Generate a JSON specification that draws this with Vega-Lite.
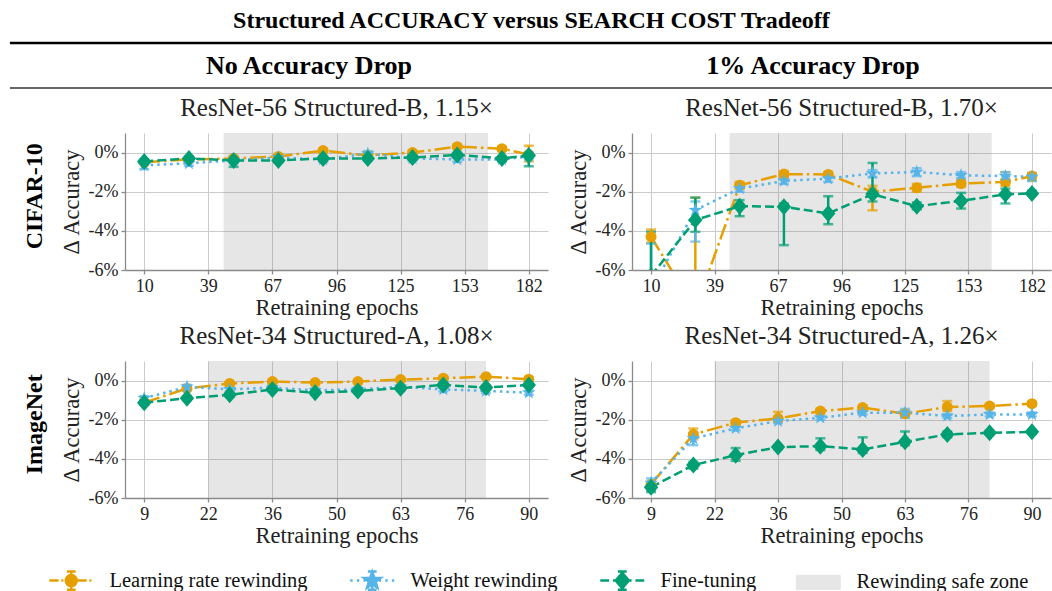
{
"$schema": "https://vega.github.io/schema/vega-lite/v6.json",
"padding": {"left": 8, "top": 8, "right": 0, "bottom": 0},
"background": "white",
"title": {"text": "Structured ACCURACY versus SEARCH COST Tradeoff", "font": "Liberation Serif, Times New Roman, serif", "fontSize": 24, "fontWeight": "bold", "color": "#000", "anchor": "middle", "frame": "bounds", "offset": 9},
"datasets": {
"zones": [
{"p": "A", "start": 45.5, "end": 163.8},
{"p": "B", "start": 45.5, "end": 163.8},
{"p": "C", "start": 22.5, "end": 81},
{"p": "D", "start": 22.5, "end": 81}
],
"pts": [
{"p":"A","s":"Learning rate rewinding","e":10,"v":-0.5,"lo":-0.6,"hi":-0.4},
{"p":"A","s":"Learning rate rewinding","e":30,"v":-0.35,"lo":-0.45,"hi":-0.25},
{"p":"A","s":"Learning rate rewinding","e":50,"v":-0.3,"lo":-0.4,"hi":-0.2},
{"p":"A","s":"Learning rate rewinding","e":70,"v":-0.2,"lo":-0.3,"hi":-0.1},
{"p":"A","s":"Learning rate rewinding","e":90,"v":0.1,"lo":0.0,"hi":0.2},
{"p":"A","s":"Learning rate rewinding","e":110,"v":-0.15,"lo":-0.25,"hi":-0.05},
{"p":"A","s":"Learning rate rewinding","e":130,"v":0.0,"lo":-0.1,"hi":0.1},
{"p":"A","s":"Learning rate rewinding","e":150,"v":0.3,"lo":0.2,"hi":0.4},
{"p":"A","s":"Learning rate rewinding","e":170,"v":0.2,"lo":0.1,"hi":0.3},
{"p":"A","s":"Learning rate rewinding","e":182,"v":-0.1,"lo":-0.45,"hi":0.35},
{"p":"A","s":"Weight rewinding","e":10,"v":-0.65,"lo":-0.85,"hi":-0.45},
{"p":"A","s":"Weight rewinding","e":30,"v":-0.55,"lo":-0.67,"hi":-0.43},
{"p":"A","s":"Weight rewinding","e":50,"v":-0.4,"lo":-0.52,"hi":-0.28},
{"p":"A","s":"Weight rewinding","e":70,"v":-0.25,"lo":-0.37,"hi":-0.13},
{"p":"A","s":"Weight rewinding","e":90,"v":-0.35,"lo":-0.47,"hi":-0.23},
{"p":"A","s":"Weight rewinding","e":110,"v":-0.05,"lo":-0.17,"hi":0.07},
{"p":"A","s":"Weight rewinding","e":130,"v":-0.3,"lo":-0.42,"hi":-0.18},
{"p":"A","s":"Weight rewinding","e":150,"v":-0.35,"lo":-0.47,"hi":-0.23},
{"p":"A","s":"Weight rewinding","e":170,"v":-0.35,"lo":-0.47,"hi":-0.23},
{"p":"A","s":"Weight rewinding","e":182,"v":-0.2,"lo":-0.32,"hi":-0.08},
{"p":"A","s":"Fine-tuning","e":10,"v":-0.45,"lo":-0.55,"hi":-0.35},
{"p":"A","s":"Fine-tuning","e":30,"v":-0.3,"lo":-0.4,"hi":-0.2},
{"p":"A","s":"Fine-tuning","e":50,"v":-0.4,"lo":-0.73,"hi":-0.2},
{"p":"A","s":"Fine-tuning","e":70,"v":-0.4,"lo":-0.5,"hi":-0.3},
{"p":"A","s":"Fine-tuning","e":90,"v":-0.3,"lo":-0.4,"hi":-0.2},
{"p":"A","s":"Fine-tuning","e":110,"v":-0.3,"lo":-0.4,"hi":-0.2},
{"p":"A","s":"Fine-tuning","e":130,"v":-0.25,"lo":-0.35,"hi":-0.15},
{"p":"A","s":"Fine-tuning","e":150,"v":-0.12,"lo":-0.22,"hi":-0.02},
{"p":"A","s":"Fine-tuning","e":170,"v":-0.3,"lo":-0.4,"hi":-0.2},
{"p":"A","s":"Fine-tuning","e":182,"v":-0.15,"lo":-0.7,"hi":0.0},
{"p":"B","s":"Learning rate rewinding","e":10,"v":-4.3,"lo":-4.6,"hi":-3.93},
{"p":"B","s":"Learning rate rewinding","e":30,"v":-8.0,"lo":-9.5,"hi":-2.3},
{"p":"B","s":"Learning rate rewinding","e":50,"v":-1.67,"lo":-1.85,"hi":-1.5},
{"p":"B","s":"Learning rate rewinding","e":70,"v":-1.1,"lo":-1.25,"hi":-0.95},
{"p":"B","s":"Learning rate rewinding","e":90,"v":-1.12,"lo":-1.25,"hi":-1.0},
{"p":"B","s":"Learning rate rewinding","e":110,"v":-2.0,"lo":-2.95,"hi":-1.7},
{"p":"B","s":"Learning rate rewinding","e":130,"v":-1.8,"lo":-2.0,"hi":-1.6},
{"p":"B","s":"Learning rate rewinding","e":150,"v":-1.58,"lo":-1.75,"hi":-1.4},
{"p":"B","s":"Learning rate rewinding","e":170,"v":-1.5,"lo":-1.7,"hi":-1.0},
{"p":"B","s":"Learning rate rewinding","e":182,"v":-1.2,"lo":-1.4,"hi":-1.05},
{"p":"B","s":"Weight rewinding","e":10,"v":-7.0,"lo":-9.0,"hi":-4.65},
{"p":"B","s":"Weight rewinding","e":30,"v":-2.94,"lo":-4.55,"hi":-2.5},
{"p":"B","s":"Weight rewinding","e":50,"v":-1.84,"lo":-2.0,"hi":-1.65},
{"p":"B","s":"Weight rewinding","e":70,"v":-1.45,"lo":-1.6,"hi":-1.3},
{"p":"B","s":"Weight rewinding","e":90,"v":-1.33,"lo":-1.5,"hi":-1.2},
{"p":"B","s":"Weight rewinding","e":110,"v":-1.07,"lo":-1.25,"hi":-0.9},
{"p":"B","s":"Weight rewinding","e":130,"v":-0.99,"lo":-1.2,"hi":-0.8},
{"p":"B","s":"Weight rewinding","e":150,"v":-1.16,"lo":-1.3,"hi":-1.0},
{"p":"B","s":"Weight rewinding","e":170,"v":-1.2,"lo":-1.35,"hi":-1.0},
{"p":"B","s":"Weight rewinding","e":182,"v":-1.24,"lo":-1.45,"hi":-1.05},
{"p":"B","s":"Fine-tuning","e":10,"v":-6.3,"lo":-8.0,"hi":-4.05},
{"p":"B","s":"Fine-tuning","e":30,"v":-3.45,"lo":-4.05,"hi":-2.3},
{"p":"B","s":"Fine-tuning","e":50,"v":-2.74,"lo":-3.25,"hi":-2.43},
{"p":"B","s":"Fine-tuning","e":70,"v":-2.77,"lo":-4.73,"hi":-2.6},
{"p":"B","s":"Fine-tuning","e":90,"v":-3.11,"lo":-3.66,"hi":-2.23},
{"p":"B","s":"Fine-tuning","e":110,"v":-2.13,"lo":-2.5,"hi":-0.53},
{"p":"B","s":"Fine-tuning","e":130,"v":-2.74,"lo":-2.9,"hi":-2.55},
{"p":"B","s":"Fine-tuning","e":150,"v":-2.47,"lo":-2.86,"hi":-2.06},
{"p":"B","s":"Fine-tuning","e":170,"v":-2.13,"lo":-2.6,"hi":-1.84},
{"p":"B","s":"Fine-tuning","e":182,"v":-2.09,"lo":-2.2,"hi":-1.95},
{"p":"C","s":"Learning rate rewinding","e":9,"v":-1.13,"lo":-1.21,"hi":-1.05},
{"p":"C","s":"Learning rate rewinding","e":18,"v":-0.4,"lo":-0.48,"hi":-0.32},
{"p":"C","s":"Learning rate rewinding","e":27,"v":-0.15,"lo":-0.23,"hi":-0.07},
{"p":"C","s":"Learning rate rewinding","e":36,"v":-0.05,"lo":-0.13,"hi":0.03},
{"p":"C","s":"Learning rate rewinding","e":45,"v":-0.1,"lo":-0.18,"hi":-0.02},
{"p":"C","s":"Learning rate rewinding","e":54,"v":-0.05,"lo":-0.13,"hi":0.03},
{"p":"C","s":"Learning rate rewinding","e":63,"v":0.05,"lo":-0.03,"hi":0.13},
{"p":"C","s":"Learning rate rewinding","e":72,"v":0.12,"lo":0.04,"hi":0.2},
{"p":"C","s":"Learning rate rewinding","e":81,"v":0.2,"lo":0.12,"hi":0.28},
{"p":"C","s":"Learning rate rewinding","e":90,"v":0.07,"lo":-0.01,"hi":0.15},
{"p":"C","s":"Weight rewinding","e":9,"v":-0.9,"lo":-1.0,"hi":-0.8},
{"p":"C","s":"Weight rewinding","e":18,"v":-0.32,"lo":-0.42,"hi":-0.22},
{"p":"C","s":"Weight rewinding","e":27,"v":-0.45,"lo":-0.55,"hi":-0.35},
{"p":"C","s":"Weight rewinding","e":36,"v":-0.36,"lo":-0.46,"hi":-0.26},
{"p":"C","s":"Weight rewinding","e":45,"v":-0.5,"lo":-0.6,"hi":-0.4},
{"p":"C","s":"Weight rewinding","e":54,"v":-0.45,"lo":-0.55,"hi":-0.35},
{"p":"C","s":"Weight rewinding","e":63,"v":-0.32,"lo":-0.42,"hi":-0.22},
{"p":"C","s":"Weight rewinding","e":72,"v":-0.45,"lo":-0.55,"hi":-0.35},
{"p":"C","s":"Weight rewinding","e":81,"v":-0.53,"lo":-0.63,"hi":-0.43},
{"p":"C","s":"Weight rewinding","e":90,"v":-0.62,"lo":-0.72,"hi":-0.52},
{"p":"C","s":"Fine-tuning","e":9,"v":-1.13,"lo":-1.23,"hi":-1.03},
{"p":"C","s":"Fine-tuning","e":18,"v":-0.9,"lo":-1.0,"hi":-0.8},
{"p":"C","s":"Fine-tuning","e":27,"v":-0.73,"lo":-0.83,"hi":-0.63},
{"p":"C","s":"Fine-tuning","e":36,"v":-0.45,"lo":-0.55,"hi":-0.35},
{"p":"C","s":"Fine-tuning","e":45,"v":-0.62,"lo":-0.72,"hi":-0.52},
{"p":"C","s":"Fine-tuning","e":54,"v":-0.53,"lo":-0.63,"hi":-0.43},
{"p":"C","s":"Fine-tuning","e":63,"v":-0.39,"lo":-0.49,"hi":-0.29},
{"p":"C","s":"Fine-tuning","e":72,"v":-0.22,"lo":-0.32,"hi":-0.12},
{"p":"C","s":"Fine-tuning","e":81,"v":-0.36,"lo":-0.46,"hi":-0.26},
{"p":"C","s":"Fine-tuning","e":90,"v":-0.22,"lo":-0.32,"hi":-0.12},
{"p":"D","s":"Learning rate rewinding","e":9,"v":-5.3,"lo":-5.4,"hi":-5.2},
{"p":"D","s":"Learning rate rewinding","e":18,"v":-2.75,"lo":-3.0,"hi":-2.45},
{"p":"D","s":"Learning rate rewinding","e":27,"v":-2.15,"lo":-2.25,"hi":-2.05},
{"p":"D","s":"Learning rate rewinding","e":36,"v":-1.93,"lo":-2.1,"hi":-1.6},
{"p":"D","s":"Learning rate rewinding","e":45,"v":-1.56,"lo":-1.66,"hi":-1.46},
{"p":"D","s":"Learning rate rewinding","e":54,"v":-1.38,"lo":-1.48,"hi":-1.28},
{"p":"D","s":"Learning rate rewinding","e":63,"v":-1.69,"lo":-1.79,"hi":-1.59},
{"p":"D","s":"Learning rate rewinding","e":72,"v":-1.35,"lo":-1.55,"hi":-1.05},
{"p":"D","s":"Learning rate rewinding","e":81,"v":-1.3,"lo":-1.4,"hi":-1.2},
{"p":"D","s":"Learning rate rewinding","e":90,"v":-1.18,"lo":-1.28,"hi":-1.08},
{"p":"D","s":"Weight rewinding","e":9,"v":-5.23,"lo":-5.6,"hi":-5.0},
{"p":"D","s":"Weight rewinding","e":18,"v":-2.96,"lo":-3.3,"hi":-2.7},
{"p":"D","s":"Weight rewinding","e":27,"v":-2.44,"lo":-2.54,"hi":-2.34},
{"p":"D","s":"Weight rewinding","e":36,"v":-2.07,"lo":-2.17,"hi":-1.97},
{"p":"D","s":"Weight rewinding","e":45,"v":-1.9,"lo":-2.0,"hi":-1.8},
{"p":"D","s":"Weight rewinding","e":54,"v":-1.64,"lo":-1.74,"hi":-1.54},
{"p":"D","s":"Weight rewinding","e":63,"v":-1.64,"lo":-1.9,"hi":-1.45},
{"p":"D","s":"Weight rewinding","e":72,"v":-1.81,"lo":-1.91,"hi":-1.71},
{"p":"D","s":"Weight rewinding","e":81,"v":-1.73,"lo":-1.83,"hi":-1.63},
{"p":"D","s":"Weight rewinding","e":90,"v":-1.73,"lo":-1.83,"hi":-1.63},
{"p":"D","s":"Fine-tuning","e":9,"v":-5.45,"lo":-5.7,"hi":-5.2},
{"p":"D","s":"Fine-tuning","e":18,"v":-4.32,"lo":-4.5,"hi":-4.15},
{"p":"D","s":"Fine-tuning","e":27,"v":-3.81,"lo":-4.1,"hi":-3.45},
{"p":"D","s":"Fine-tuning","e":36,"v":-3.4,"lo":-3.5,"hi":-3.3},
{"p":"D","s":"Fine-tuning","e":45,"v":-3.35,"lo":-3.55,"hi":-2.95},
{"p":"D","s":"Fine-tuning","e":54,"v":-3.52,"lo":-3.7,"hi":-2.9},
{"p":"D","s":"Fine-tuning","e":63,"v":-3.13,"lo":-3.3,"hi":-2.6},
{"p":"D","s":"Fine-tuning","e":72,"v":-2.75,"lo":-2.9,"hi":-2.6},
{"p":"D","s":"Fine-tuning","e":81,"v":-2.67,"lo":-2.77,"hi":-2.57},
{"p":"D","s":"Fine-tuning","e":90,"v":-2.62,"lo":-2.72,"hi":-2.52}
]
},
"spacing": 0,
"vconcat": [
{"width": 928, "height": 10, "data": {"values": [{"v": 1}]}, "mark": {"type": "rule", "strokeWidth": 2.5, "color": "#000"}, "encoding": {"y": {"field": "v", "type": "quantitative", "scale": {"domain": [0, 1]}, "axis": null}, "x": {"datum": -0.124, "type": "quantitative", "scale": {"domain": [0, 1]}, "axis": null}, "x2": {"datum": 1}}},
{"hconcat": [
  {"width": 368, "height": 8, "title": {"text": "No Accuracy Drop", "fontSize": 26, "fontWeight": "bold", "color": "#000", "offset": 0}, "data": {"values": []}, "mark": "rule", "encoding": {}},
  {"width": 480, "height": 8, "title": {"text": "1% Accuracy Drop", "fontSize": 26, "fontWeight": "bold", "color": "#000", "offset": 0}, "data": {"values": []}, "mark": "rule", "encoding": {}}
], "spacing": 80},
{"width": 928, "height": 8, "data": {"values": [{"v": 1}]}, "mark": {"type": "rule", "strokeWidth": 1.5, "color": "#333"}, "encoding": {"y": {"field": "v", "type": "quantitative", "scale": {"domain": [0, 1]}, "axis": null}, "x": {"datum": -0.124, "type": "quantitative", "scale": {"domain": [0, 1]}, "axis": null}, "x2": {"datum": 1}}},
{"vconcat": [
{"title": {"text": ["", "CIFAR-10"], "orient": "left", "fontSize": 24, "fontWeight": "bold", "color": "#000", "lineHeight": 14, "offset": 13, "anchor": "middle", "dx": 11},
 "spacing": 19,
 "hconcat": [
  {"width": 423, "height": 137, "title": "ResNet-56 Structured-B, 1.15×",
   "layer": [
    {"data": {"name": "zones"}, "transform": [{"filter": "datum.p === 'A'"}], "mark": {"type": "rect", "opacity": 0.2, "color": "#808080"},
     "encoding": {"x": {"field": "start", "type": "quantitative", "scale": {"domain": [1.4, 190.6], "nice": false, "zero": false}, "axis": {"values": [10, 38.667, 67.333, 96, 124.667, 153.333, 182], "format": "d", "title": "Retraining epochs"}},
      "x2": {"field": "end"}}},
    {"data": {"name": "pts"}, "transform": [{"filter": "datum.p === 'A'"}], "mark": {"type": "line", "strokeWidth": 2.5, "clip": true},
     "encoding": {"x": {"field": "e", "type": "quantitative", "scale": {"domain": [1.4, 190.6], "nice": false, "zero": false}, "axis": {"values": [10, 38.667, 67.333, 96, 124.667, 153.333, 182], "format": "d", "title": "Retraining epochs"}},
      "y": {"field": "v", "type": "quantitative", "scale": {"domain": [-6, 1], "nice": false, "zero": false}, "axis": {"values": [0, -2, -4, -6], "labelExpr": "datum.value + '%'", "title": "Δ Accuracy"}},
      "color": {"field": "s", "type": "nominal", "scale": {"domain": ["Learning rate rewinding", "Weight rewinding", "Fine-tuning", "Rewinding safe zone"], "range": ["#E69F00", "#56B4E9", "#009E73", "#e6e6e6"]},
        "legend": {"orient": "none", "legendX": -64, "legendY": 527, "direction": "horizontal", "columns": 4, "title": null, "padding": 0, "symbolSize": 484, "labelFont": "Liberation Serif, Times New Roman, serif", "labelFontSize": 20.5, "labelColor": "#111", "labelOffset": 28, "labelLimit": 400, "columnPadding": 37,
          "encode": {"symbols": {"update": {
            "shape": {"signal": "datum.value === 'Learning rate rewinding' ? 'M-2,0L-1.15,0M-0.9,0L-0.72,0M0.55,0L1.4,0M1.65,0L1.83,0M0.5,0A0.5,0.5,0,1,1,-0.5,0A0.5,0.5,0,1,1,0.5,0ZM0,-0.82L0,0.82M-0.4,-0.82L0.4,-0.82M-0.4,0.82L0.4,0.82' : datum.value === 'Weight rewinding' ? 'M-2,0L-1.78,0M-1.4,0L-1.18,0M-0.8,0L-0.6,0M0.6,0L0.8,0M1.18,0L1.4,0M1.78,0L2,0M0,-0.8L0.188,-0.259L0.761,-0.247L0.304,0.099L0.47,0.647L0,0.32L-0.47,0.647L-0.304,0.099L-0.761,-0.247L-0.188,-0.259ZM0,-0.82L0,0.82M-0.4,-0.82L0.4,-0.82M-0.4,0.82L0.4,0.82' : datum.value === 'Fine-tuning' ? 'M-2,0L-1.2,0M-0.85,0L-0.45,0M0.45,0L0.85,0M1.2,0L2,0M0,-0.7L0.6,0L0,0.7L-0.6,0ZM0,-0.82L0,0.82M-0.4,-0.82L0.4,-0.82M-0.4,0.82L0.4,0.82' : 'M-2,-0.64L2,-0.64L2,0.64L-2,0.64Z'"},
            "fill": {"signal": "datum.value === 'Learning rate rewinding' ? '#E69F00' : datum.value === 'Weight rewinding' ? '#56B4E9' : datum.value === 'Fine-tuning' ? '#009E73' : '#e6e6e6'"},
            "stroke": {"signal": "datum.value === 'Learning rate rewinding' ? '#E69F00' : datum.value === 'Weight rewinding' ? '#56B4E9' : datum.value === 'Fine-tuning' ? '#009E73' : '#d6d6d6'"},
            "strokeWidth": {"signal": "datum.value === 'Rewinding safe zone' ? 1 : 2.5"},
            "opacity": {"value": 1}, "fillOpacity": {"value": 1}, "strokeOpacity": {"value": 1}
          }}}}},
      "strokeDash": {"field": "s", "type": "nominal", "scale": {"domain": ["Learning rate rewinding", "Weight rewinding", "Fine-tuning"], "range": [[16, 4, 2.5, 4], [2.5, 4], [9, 4]]}, "legend": null}}},
    {"data": {"name": "pts"}, "transform": [{"filter": "datum.p === 'A'"}], "mark": {"type": "errorbar", "ticks": true, "size": 10, "thickness": 2.5, "clip": true},
     "encoding": {"x": {"field": "e", "type": "quantitative", "scale": {"domain": [1.4, 190.6], "nice": false, "zero": false}, "axis": {"values": [10, 38.667, 67.333, 96, 124.667, 153.333, 182], "format": "d", "title": "Retraining epochs"}},
      "y": {"field": "lo", "type": "quantitative", "scale": {"domain": [-6, 1], "nice": false, "zero": false}, "axis": {"values": [0, -2, -4, -6], "labelExpr": "datum.value + '%'", "title": "Δ Accuracy"}},
      "y2": {"field": "hi"}, "color": {"field": "s", "type": "nominal"}}},
    {"data": {"name": "pts"}, "transform": [{"filter": "datum.p === 'A'"}], "mark": {"type": "point", "filled": true, "opacity": 1, "clip": true},
     "encoding": {"x": {"field": "e", "type": "quantitative", "scale": {"domain": [1.4, 190.6], "nice": false, "zero": false}, "axis": {"values": [10, 38.667, 67.333, 96, 124.667, 153.333, 182], "format": "d", "title": "Retraining epochs"}},
      "y": {"field": "v", "type": "quantitative", "scale": {"domain": [-6, 1], "nice": false, "zero": false}, "axis": {"values": [0, -2, -4, -6], "labelExpr": "datum.value + '%'", "title": "Δ Accuracy"}},
      "color": {"field": "s", "type": "nominal"},
      "shape": {"field": "s", "type": "nominal", "scale": {"domain": ["Learning rate rewinding", "Weight rewinding", "Fine-tuning"], "range": ["circle", "M0,-1L0.235,-0.324L0.951,-0.309L0.38,0.124L0.588,0.809L0,0.4L-0.588,0.809L-0.38,0.124L-0.951,-0.309L-0.235,-0.324Z", "M0,-1L0.85,0L0,1L-0.85,0Z"]}, "legend": null},
      "size": {"field": "s", "type": "nominal", "scale": {"domain": ["Learning rate rewinding", "Weight rewinding", "Fine-tuning"], "range": [121, 289, 225]}, "legend": null}}}
   ]},
  {"width": 419, "height": 137, "title": "ResNet-56 Structured-B, 1.70×",
   "layer": [
    {"data": {"name": "zones"}, "transform": [{"filter": "datum.p === 'B'"}], "mark": {"type": "rect", "opacity": 0.2, "color": "#808080"},
     "encoding": {"x": {"field": "start", "type": "quantitative", "scale": {"domain": [1.4, 190.6], "nice": false, "zero": false}, "axis": {"values": [10, 38.667, 67.333, 96, 124.667, 153.333, 182], "format": "d", "title": "Retraining epochs"}},
      "x2": {"field": "end"}}},
    {"data": {"name": "pts"}, "transform": [{"filter": "datum.p === 'B'"}], "mark": {"type": "line", "strokeWidth": 2.5, "clip": true},
     "encoding": {"x": {"field": "e", "type": "quantitative", "scale": {"domain": [1.4, 190.6], "nice": false, "zero": false}, "axis": {"values": [10, 38.667, 67.333, 96, 124.667, 153.333, 182], "format": "d", "title": "Retraining epochs"}},
      "y": {"field": "v", "type": "quantitative", "scale": {"domain": [-6, 1], "nice": false, "zero": false}, "axis": {"values": [0, -2, -4, -6], "labelExpr": "datum.value + '%'", "title": "Δ Accuracy"}},
      "color": {"field": "s", "type": "nominal"},
      "strokeDash": {"field": "s", "type": "nominal", "scale": {"domain": ["Learning rate rewinding", "Weight rewinding", "Fine-tuning"], "range": [[16, 4, 2.5, 4], [2.5, 4], [9, 4]]}, "legend": null}}},
    {"data": {"name": "pts"}, "transform": [{"filter": "datum.p === 'B'"}], "mark": {"type": "errorbar", "ticks": true, "size": 10, "thickness": 2.5, "clip": true},
     "encoding": {"x": {"field": "e", "type": "quantitative", "scale": {"domain": [1.4, 190.6], "nice": false, "zero": false}, "axis": {"values": [10, 38.667, 67.333, 96, 124.667, 153.333, 182], "format": "d", "title": "Retraining epochs"}},
      "y": {"field": "lo", "type": "quantitative", "scale": {"domain": [-6, 1], "nice": false, "zero": false}, "axis": {"values": [0, -2, -4, -6], "labelExpr": "datum.value + '%'", "title": "Δ Accuracy"}},
      "y2": {"field": "hi"}, "color": {"field": "s", "type": "nominal"}}},
    {"data": {"name": "pts"}, "transform": [{"filter": "datum.p === 'B'"}], "mark": {"type": "point", "filled": true, "opacity": 1, "clip": true},
     "encoding": {"x": {"field": "e", "type": "quantitative", "scale": {"domain": [1.4, 190.6], "nice": false, "zero": false}, "axis": {"values": [10, 38.667, 67.333, 96, 124.667, 153.333, 182], "format": "d", "title": "Retraining epochs"}},
      "y": {"field": "v", "type": "quantitative", "scale": {"domain": [-6, 1], "nice": false, "zero": false}, "axis": {"values": [0, -2, -4, -6], "labelExpr": "datum.value + '%'", "title": "Δ Accuracy"}},
      "color": {"field": "s", "type": "nominal"},
      "shape": {"field": "s", "type": "nominal", "scale": {"domain": ["Learning rate rewinding", "Weight rewinding", "Fine-tuning"], "range": ["circle", "M0,-1L0.235,-0.324L0.951,-0.309L0.38,0.124L0.588,0.809L0,0.4L-0.588,0.809L-0.38,0.124L-0.951,-0.309L-0.235,-0.324Z", "M0,-1L0.85,0L0,1L-0.85,0Z"]}, "legend": null},
      "size": {"field": "s", "type": "nominal", "scale": {"domain": ["Learning rate rewinding", "Weight rewinding", "Fine-tuning"], "range": [121, 289, 225]}, "legend": null}}}
   ]}
 ]},
{"title": {"text": ["", "ImageNet"], "orient": "left", "fontSize": 24, "fontWeight": "bold", "color": "#000", "lineHeight": 14, "offset": 13, "anchor": "middle", "dx": 11},
 "spacing": 19,
 "hconcat": [
  {"width": 423, "height": 137, "title": "ResNet-34 Structured-A, 1.08×",
   "layer": [
    {"data": {"name": "zones"}, "transform": [{"filter": "datum.p === 'C'"}], "mark": {"type": "rect", "opacity": 0.2, "color": "#808080"},
     "encoding": {"x": {"field": "start", "type": "quantitative", "scale": {"domain": [4.95, 94.05], "nice": false, "zero": false}, "axis": {"values": [9, 22.5, 36, 49.5, 63, 76.5, 90], "labelExpr": "datum.value === 22.5 ? '22' : datum.value === 49.5 ? '50' : datum.value === 76.5 ? '76' : format(datum.value, 'd')", "title": "Retraining epochs"}},
      "x2": {"field": "end"}}},
    {"data": {"name": "pts"}, "transform": [{"filter": "datum.p === 'C'"}], "mark": {"type": "line", "strokeWidth": 2.5, "clip": true},
     "encoding": {"x": {"field": "e", "type": "quantitative", "scale": {"domain": [4.95, 94.05], "nice": false, "zero": false}, "axis": {"values": [9, 22.5, 36, 49.5, 63, 76.5, 90], "labelExpr": "datum.value === 22.5 ? '22' : datum.value === 49.5 ? '50' : datum.value === 76.5 ? '76' : format(datum.value, 'd')", "title": "Retraining epochs"}},
      "y": {"field": "v", "type": "quantitative", "scale": {"domain": [-6, 1], "nice": false, "zero": false}, "axis": {"values": [0, -2, -4, -6], "labelExpr": "datum.value + '%'", "title": "Δ Accuracy"}},
      "color": {"field": "s", "type": "nominal"},
      "strokeDash": {"field": "s", "type": "nominal", "scale": {"domain": ["Learning rate rewinding", "Weight rewinding", "Fine-tuning"], "range": [[16, 4, 2.5, 4], [2.5, 4], [9, 4]]}, "legend": null}}},
    {"data": {"name": "pts"}, "transform": [{"filter": "datum.p === 'C'"}], "mark": {"type": "errorbar", "ticks": true, "size": 10, "thickness": 2.5, "clip": true},
     "encoding": {"x": {"field": "e", "type": "quantitative", "scale": {"domain": [4.95, 94.05], "nice": false, "zero": false}, "axis": {"values": [9, 22.5, 36, 49.5, 63, 76.5, 90], "labelExpr": "datum.value === 22.5 ? '22' : datum.value === 49.5 ? '50' : datum.value === 76.5 ? '76' : format(datum.value, 'd')", "title": "Retraining epochs"}},
      "y": {"field": "lo", "type": "quantitative", "scale": {"domain": [-6, 1], "nice": false, "zero": false}, "axis": {"values": [0, -2, -4, -6], "labelExpr": "datum.value + '%'", "title": "Δ Accuracy"}},
      "y2": {"field": "hi"}, "color": {"field": "s", "type": "nominal"}}},
    {"data": {"name": "pts"}, "transform": [{"filter": "datum.p === 'C'"}], "mark": {"type": "point", "filled": true, "opacity": 1, "clip": true},
     "encoding": {"x": {"field": "e", "type": "quantitative", "scale": {"domain": [4.95, 94.05], "nice": false, "zero": false}, "axis": {"values": [9, 22.5, 36, 49.5, 63, 76.5, 90], "labelExpr": "datum.value === 22.5 ? '22' : datum.value === 49.5 ? '50' : datum.value === 76.5 ? '76' : format(datum.value, 'd')", "title": "Retraining epochs"}},
      "y": {"field": "v", "type": "quantitative", "scale": {"domain": [-6, 1], "nice": false, "zero": false}, "axis": {"values": [0, -2, -4, -6], "labelExpr": "datum.value + '%'", "title": "Δ Accuracy"}},
      "color": {"field": "s", "type": "nominal"},
      "shape": {"field": "s", "type": "nominal", "scale": {"domain": ["Learning rate rewinding", "Weight rewinding", "Fine-tuning"], "range": ["circle", "M0,-1L0.235,-0.324L0.951,-0.309L0.38,0.124L0.588,0.809L0,0.4L-0.588,0.809L-0.38,0.124L-0.951,-0.309L-0.235,-0.324Z", "M0,-1L0.85,0L0,1L-0.85,0Z"]}, "legend": null},
      "size": {"field": "s", "type": "nominal", "scale": {"domain": ["Learning rate rewinding", "Weight rewinding", "Fine-tuning"], "range": [121, 289, 225]}, "legend": null}}}
   ]},
  {"width": 419, "height": 137, "title": "ResNet-34 Structured-A, 1.26×",
   "layer": [
    {"data": {"name": "zones"}, "transform": [{"filter": "datum.p === 'D'"}], "mark": {"type": "rect", "opacity": 0.2, "color": "#808080"},
     "encoding": {"x": {"field": "start", "type": "quantitative", "scale": {"domain": [4.95, 94.05], "nice": false, "zero": false}, "axis": {"values": [9, 22.5, 36, 49.5, 63, 76.5, 90], "labelExpr": "datum.value === 22.5 ? '22' : datum.value === 49.5 ? '50' : datum.value === 76.5 ? '76' : format(datum.value, 'd')", "title": "Retraining epochs"}},
      "x2": {"field": "end"}}},
    {"data": {"name": "pts"}, "transform": [{"filter": "datum.p === 'D'"}], "mark": {"type": "line", "strokeWidth": 2.5, "clip": true},
     "encoding": {"x": {"field": "e", "type": "quantitative", "scale": {"domain": [4.95, 94.05], "nice": false, "zero": false}, "axis": {"values": [9, 22.5, 36, 49.5, 63, 76.5, 90], "labelExpr": "datum.value === 22.5 ? '22' : datum.value === 49.5 ? '50' : datum.value === 76.5 ? '76' : format(datum.value, 'd')", "title": "Retraining epochs"}},
      "y": {"field": "v", "type": "quantitative", "scale": {"domain": [-6, 1], "nice": false, "zero": false}, "axis": {"values": [0, -2, -4, -6], "labelExpr": "datum.value + '%'", "title": "Δ Accuracy"}},
      "color": {"field": "s", "type": "nominal"},
      "strokeDash": {"field": "s", "type": "nominal", "scale": {"domain": ["Learning rate rewinding", "Weight rewinding", "Fine-tuning"], "range": [[16, 4, 2.5, 4], [2.5, 4], [9, 4]]}, "legend": null}}},
    {"data": {"name": "pts"}, "transform": [{"filter": "datum.p === 'D'"}], "mark": {"type": "errorbar", "ticks": true, "size": 10, "thickness": 2.5, "clip": true},
     "encoding": {"x": {"field": "e", "type": "quantitative", "scale": {"domain": [4.95, 94.05], "nice": false, "zero": false}, "axis": {"values": [9, 22.5, 36, 49.5, 63, 76.5, 90], "labelExpr": "datum.value === 22.5 ? '22' : datum.value === 49.5 ? '50' : datum.value === 76.5 ? '76' : format(datum.value, 'd')", "title": "Retraining epochs"}},
      "y": {"field": "lo", "type": "quantitative", "scale": {"domain": [-6, 1], "nice": false, "zero": false}, "axis": {"values": [0, -2, -4, -6], "labelExpr": "datum.value + '%'", "title": "Δ Accuracy"}},
      "y2": {"field": "hi"}, "color": {"field": "s", "type": "nominal"}}},
    {"data": {"name": "pts"}, "transform": [{"filter": "datum.p === 'D'"}], "mark": {"type": "point", "filled": true, "opacity": 1, "clip": true},
     "encoding": {"x": {"field": "e", "type": "quantitative", "scale": {"domain": [4.95, 94.05], "nice": false, "zero": false}, "axis": {"values": [9, 22.5, 36, 49.5, 63, 76.5, 90], "labelExpr": "datum.value === 22.5 ? '22' : datum.value === 49.5 ? '50' : datum.value === 76.5 ? '76' : format(datum.value, 'd')", "title": "Retraining epochs"}},
      "y": {"field": "v", "type": "quantitative", "scale": {"domain": [-6, 1], "nice": false, "zero": false}, "axis": {"values": [0, -2, -4, -6], "labelExpr": "datum.value + '%'", "title": "Δ Accuracy"}},
      "color": {"field": "s", "type": "nominal"},
      "shape": {"field": "s", "type": "nominal", "scale": {"domain": ["Learning rate rewinding", "Weight rewinding", "Fine-tuning"], "range": ["circle", "M0,-1L0.235,-0.324L0.951,-0.309L0.38,0.124L0.588,0.809L0,0.4L-0.588,0.809L-0.38,0.124L-0.951,-0.309L-0.235,-0.324Z", "M0,-1L0.85,0L0,1L-0.85,0Z"]}, "legend": null},
      "size": {"field": "s", "type": "nominal", "scale": {"domain": ["Learning rate rewinding", "Weight rewinding", "Fine-tuning"], "range": [121, 289, 225]}, "legend": null}}}
   ]}
 ]}
], "spacing": 5}
],
"config": {
  "font": "Liberation Serif, Times New Roman, serif",
  "view": {"stroke": null},
  "axis": {"labelFont": "Liberation Serif, Times New Roman, serif", "labelFontSize": 18, "labelColor": "#222", "titleFont": "Liberation Serif, Times New Roman, serif", "titleFontSize": 22.5, "titleFontWeight": "normal", "titleColor": "#222", "domainColor": "#8a8a8a", "domainWidth": 1.3, "tickColor": "#8a8a8a", "tickSize": 4, "tickWidth": 1.3, "grid": true, "gridColor": "#cbcbcb", "gridWidth": 1, "labelPadding": 3},
  "axisX": {"titlePadding": 1},
  "axisY": {"titlePadding": 5},
  "title": {"font": "Liberation Serif, Times New Roman, serif", "fontSize": 25, "fontWeight": "normal", "color": "#222", "offset": 12}
}
}
